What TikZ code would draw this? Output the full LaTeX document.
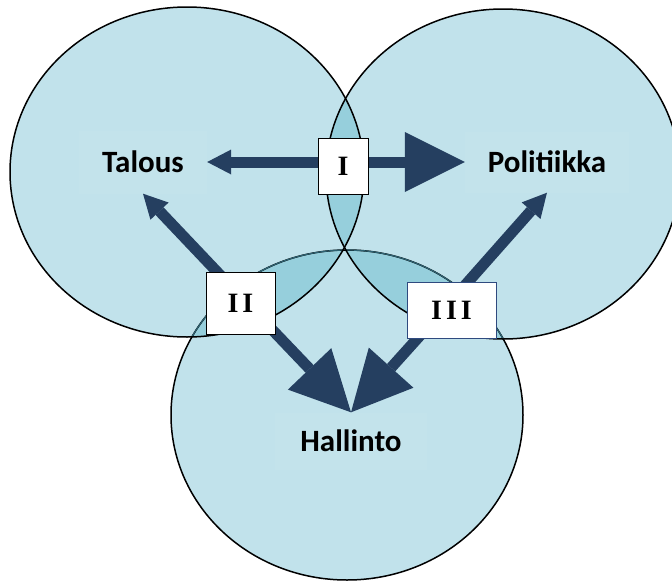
\documentclass[tikz,border=0pt]{standalone}
\usepackage{fontspec}
\setmainfont{Carlito}
\newfontfamily\numfont{Liberation Serif}
\usetikzlibrary{arrows.meta}
\definecolor{circfill}{HTML}{C1E2EB}
\definecolor{lensfill}{HTML}{96CFDC}
\definecolor{navy}{HTML}{253F60}
\definecolor{labelbg}{HTML}{C3E3EB}
\definecolor{innerline}{HTML}{2E6272}
\definecolor{boxblue}{HTML}{2F4A7F}
\tikzset{
  lbl/.style={rectangle, fill=labelbg, inner sep=0pt,
    font=\fontsize{31}{36}\selectfont\bfseries},
  numbox/.style={rectangle, draw=black, fill=white, line width=1pt, inner sep=0pt,
    font=\numfont\bfseries\fontsize{28}{30}\selectfont},
  arr/.style={draw=navy, line width=11pt},
  bighead/.style={-{Triangle[length=60pt,width=60pt,line width=0pt]}},
  smallhead/.style={-{Triangle[length=24pt,width=25pt,line width=0pt]}},
  circline/.style={line width=1.5pt, draw=black}
}
\begin{document}
\begin{tikzpicture}[x=1pt,y=-1pt]
\useasboundingbox (0,0) rectangle (672,581);
\clip (0,0) rectangle (672,581);
% circle fills
\fill[circfill] (347,415) ellipse [x radius=176pt, y radius=165pt];
\fill[circfill] (187,172) ellipse [x radius=177pt, y radius=165pt];
\fill[circfill] (503,174) ellipse [x radius=177pt, y radius=165pt];
% overlaps
\begin{scope}
  \clip (187,172) ellipse [x radius=177pt, y radius=165pt];
  \fill[lensfill] (503,174) ellipse [x radius=177pt, y radius=165pt];
  \fill[lensfill] (347,415) ellipse [x radius=176pt, y radius=165pt];
\end{scope}
\begin{scope}
  \clip (503,174) ellipse [x radius=177pt, y radius=165pt];
  \fill[lensfill] (347,415) ellipse [x radius=176pt, y radius=165pt];
\end{scope}
% outlines
\draw[circline] (347,415) ellipse [x radius=176pt, y radius=165pt];
\begin{scope}
  \clip (187,172) ellipse [x radius=177pt, y radius=165pt];
  \draw[circline, draw=innerline, line width=1.2pt] (347,415) ellipse [x radius=176pt, y radius=165pt];
\end{scope}
\begin{scope}
  \clip (503,174) ellipse [x radius=177pt, y radius=165pt];
  \draw[circline, draw=innerline, line width=1.2pt] (347,415) ellipse [x radius=176pt, y radius=165pt];
\end{scope}
\draw[circline] (187,172) ellipse [x radius=177pt, y radius=165pt];
\draw[circline] (503,174) ellipse [x radius=177pt, y radius=165pt];
% labels
\node[lbl, minimum width=128pt, minimum height=63pt] (talous) at (143,162) {Talous};
\node[lbl, minimum width=164pt, minimum height=61pt] (politiikka) at (547,162) {Politiikka};
\node[lbl, minimum width=152pt, minimum height=57pt] (hallinto) at (351,441) {Hallinto};
% arrow crossing points
\coordinate (cI) at (343,162);
\coordinate (cII) at (240,296);
\coordinate (cIII) at (452,300);
% arrows
\draw[arr, smallhead] (cI) -- (talous.east);
\draw[arr, bighead] (cI) -- (politiikka.west);
\draw[arr, smallhead] (cII) -- (talous.south);
\draw[arr, bighead] (cII) -- (hallinto.north);
\draw[arr, smallhead] (cIII) -- (politiikka.south);
\draw[arr, bighead] (cIII) -- (hallinto.north);
% boxes
\node[numbox, minimum width=50pt, minimum height=56pt] (boxI) at (343,166) {I};
\node[numbox, minimum width=69pt, minimum height=62pt] (boxII) at (240.5,303) {I\kern4pt I};
\node[numbox, draw=boxblue, minimum width=89pt, minimum height=56pt] (boxIII) at (451.5,310) {I\kern4pt I\kern4pt I};
\end{tikzpicture}
\end{document}
